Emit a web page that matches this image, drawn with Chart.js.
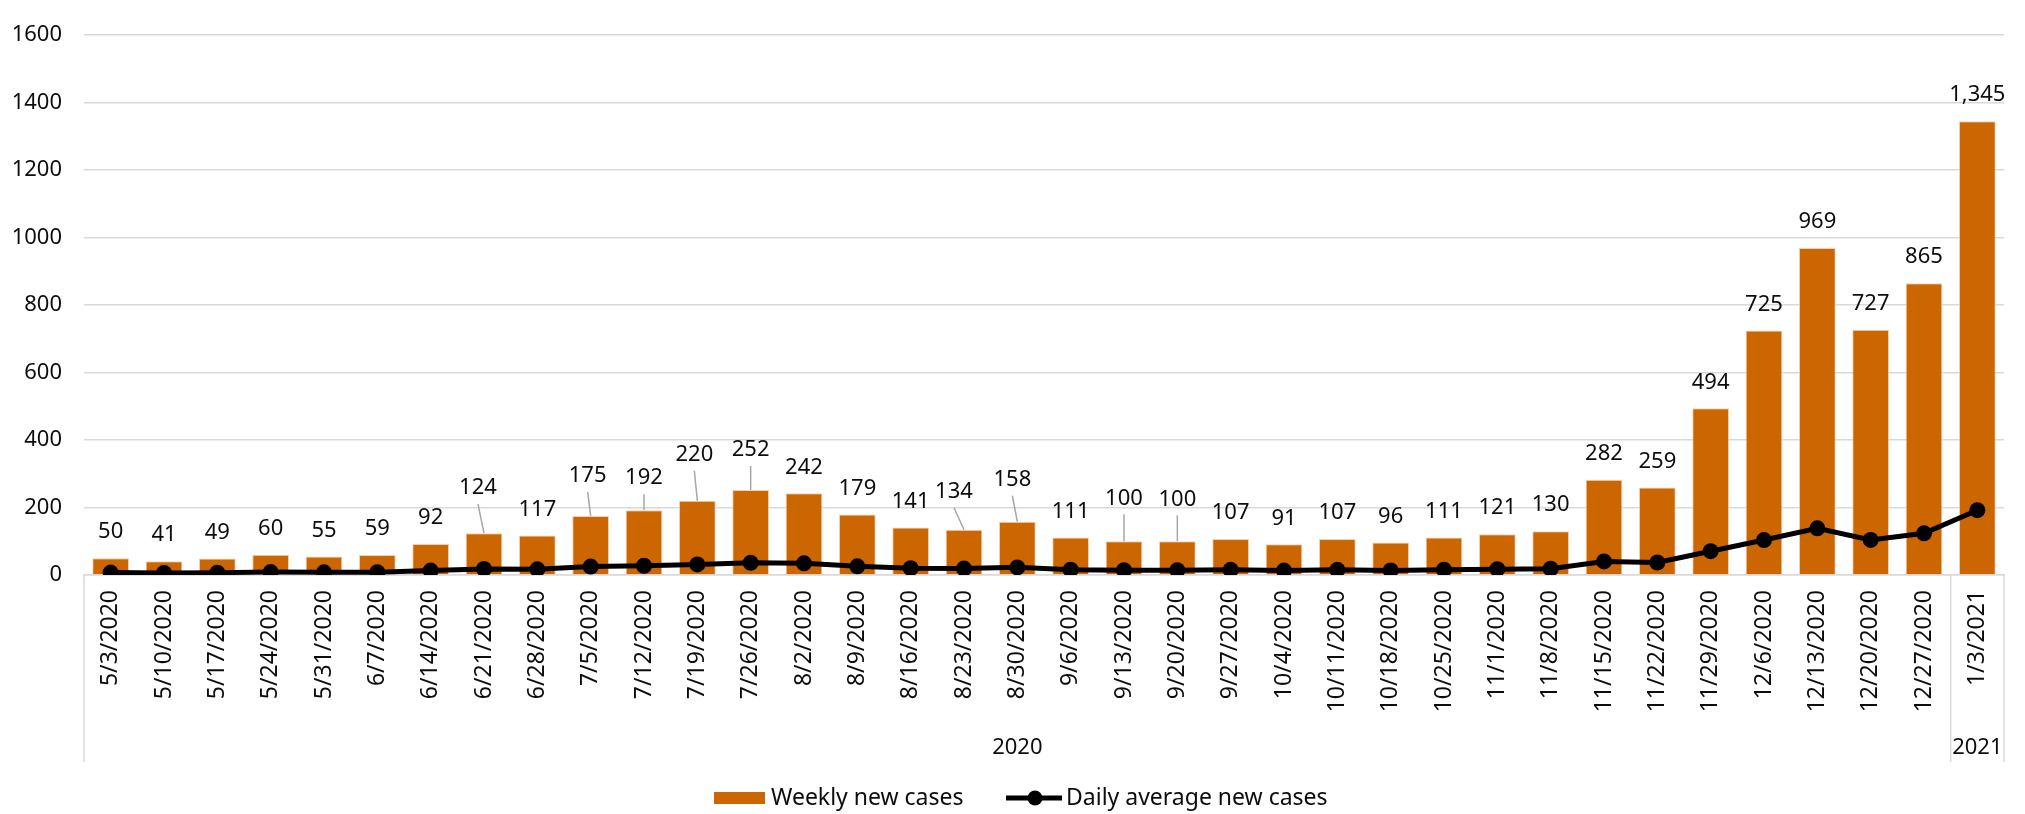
<!DOCTYPE html>
<html>
<head>
<meta charset="utf-8">
<script src="https://cdn.jsdelivr.net/npm/chart.js@4.4.1/dist/chart.umd.min.js"></script>
<style>
  html, body { margin: 0; padding: 0; background: #fff; }
  #chart-container { width: 2025px; height: 814px; }
</style>
</head>
<body>
<div id="chart-container"><canvas id="myChart"></canvas></div>
<script>
// Week start dates (x categories)
const weekLabels = [
  "5/3/2020", "5/10/2020", "5/17/2020", "5/24/2020", "5/31/2020", "6/7/2020",
  "6/14/2020", "6/21/2020", "6/28/2020", "7/5/2020", "7/12/2020", "7/19/2020",
  "7/26/2020", "8/2/2020", "8/9/2020", "8/16/2020", "8/23/2020", "8/30/2020",
  "9/6/2020", "9/13/2020", "9/20/2020", "9/27/2020", "10/4/2020", "10/11/2020",
  "10/18/2020", "10/25/2020", "11/1/2020", "11/8/2020", "11/15/2020", "11/22/2020",
  "11/29/2020", "12/6/2020", "12/13/2020", "12/20/2020", "12/27/2020", "1/3/2021"
];

// Weekly new cases (bars)
const weeklyCases = [
  50, 41, 49, 60, 55, 59, 92, 124, 117, 175, 192, 220,
  252, 242, 179, 141, 134, 158, 111, 100, 100, 107, 91, 107,
  96, 111, 121, 130, 282, 259, 494, 725, 969, 727, 865, 1345
];

// Daily average new cases (line)
const dailyAverage = [
  7.1, 5.9, 7.0, 8.6, 7.9, 8.4, 13.1, 17.7, 16.7, 25.0, 27.4, 31.4,
  36.0, 34.6, 25.6, 20.1, 19.1, 22.6, 15.9, 14.3, 14.3, 15.3, 13.0, 15.3,
  13.7, 15.9, 17.3, 18.6, 40.3, 37.0, 70.6, 103.6, 138.4, 103.9, 123.6, 192.1
];

// Year groups under the date labels
const groupNames = ["2020", "2021"];
const groupSizes = [35, 1];

// y axis ticks
const yMin = 0;
const yMax = 1600;
const yStep = 200;

const FONT = "'Noto Sans', 'Liberation Sans', sans-serif";
const TEXT = "#0d0d0d";
const GRID = "#d9d9d9";
const ORANGE = "#CC6600";

// label callouts: index -> [dx, dy above bar top]
const callouts = {
  7: [-6, 45], 9: [-3, 40], 10: [0, 32], 11: [-3, 46], 12: [0, 40],
  16: [-10, 38], 17: [-5, 42], 19: [0, 43], 20: [0, 42]
};

const barLabels = {
  id: "barLabels",
  afterDatasetsDraw(chart) {
    const ctx = chart.ctx;
    const meta = chart.getDatasetMeta(0);
    ctx.save();
    ctx.font = "22px " + FONT;
    ctx.textAlign = "center";
    ctx.textBaseline = "middle";
    meta.data.forEach((bar, i) => {
      const v = weeklyCases[i];
      const txt = v >= 1000 ? v.toLocaleString("en-US") : String(v);
      const off = callouts[i] || [0, 26];
      const lx = bar.x + off[0];
      const ly = bar.y - off[1];
      if (callouts[i]) {
        ctx.strokeStyle = "#a6a6a6";
        ctx.lineWidth = 1.5;
        ctx.beginPath();
        ctx.moveTo(lx, ly + 16);
        ctx.lineTo(bar.x, bar.y);
        ctx.stroke();
      }
      ctx.fillStyle = TEXT;
      ctx.fillText(txt, lx, ly);
    });
    ctx.restore();
  }
};

const groupsAndLegend = {
  id: "groupsAndLegend",
  afterDraw(chart) {
    const ctx = chart.ctx;
    const xs = chart.scales.x;
    const area = chart.chartArea;
    const bottom = 762;
    ctx.save();
    // group separators
    ctx.strokeStyle = GRID;
    ctx.lineWidth = 1.5;
    const edges = [area.left];
    let idx = 0;
    groupSizes.forEach((n) => {
      idx += n;
      if (idx < weekLabels.length) {
        edges.push((xs.getPixelForValue(idx - 1) + xs.getPixelForValue(idx)) / 2);
      } else {
        edges.push(area.right);
      }
    });
    edges.forEach((x) => {
      ctx.beginPath();
      ctx.moveTo(x, area.bottom);
      ctx.lineTo(x, bottom);
      ctx.stroke();
    });
    // group names
    ctx.font = "22px " + FONT;
    ctx.fillStyle = TEXT;
    ctx.textAlign = "center";
    ctx.textBaseline = "middle";
    groupNames.forEach((name, g) => {
      ctx.fillText(name, (edges[g] + edges[g + 1]) / 2, 748);
    });

    // legend
    const ly = 798;
    let x = 714;
    ctx.font = "23px " + FONT;
    ctx.textAlign = "left";
    ctx.fillStyle = ORANGE;
    ctx.fillRect(x, ly - 6, 51, 12);
    x += 57;
    ctx.fillStyle = TEXT;
    ctx.fillText(chart.data.datasets[0].label, x, ly);
    x = 1006;
    ctx.strokeStyle = "#000";
    ctx.lineWidth = 5;
    ctx.beginPath();
    ctx.moveTo(x, ly);
    ctx.lineTo(x + 56, ly);
    ctx.stroke();
    ctx.fillStyle = "#000";
    ctx.beginPath();
    ctx.arc(x + 29, ly, 7.5, 0, Math.PI * 2);
    ctx.fill();
    x += 60;
    ctx.fillStyle = TEXT;
    ctx.fillText(chart.data.datasets[1].label, x, ly);
    ctx.restore();
  }
};

const ctx = document.getElementById("myChart").getContext("2d");
const chart = new Chart(ctx, {
  data: {
    labels: weekLabels,
    datasets: [
      {
        type: "bar",
        label: "Weekly new cases",
        data: weeklyCases,
        backgroundColor: ORANGE,
        borderColor: "rgba(240, 200, 160, 0.8)",
        borderWidth: 1,
        barPercentage: 0.69,
        categoryPercentage: 1.0,
        order: 1
      },
      {
        type: "line",
        label: "Daily average new cases",
        data: dailyAverage,
        borderColor: "#000",
        backgroundColor: "#000",
        borderWidth: 5,
        pointRadius: 8,
        pointBorderWidth: 0,
        tension: 0,
        fill: false,
        order: 0
      }
    ]
  },
  options: {
    responsive: true,
    maintainAspectRatio: false,
    devicePixelRatio: 1,
    animation: false,
    layout: { padding: { top: 20, right: 21, left: 0, bottom: 0 } },
    plugins: {
      legend: { display: false },
      tooltip: { enabled: false }
    },
    scales: {
      x: {
        grid: { display: false, drawTicks: false },
        border: { display: true, color: GRID, width: 1.5 },
        ticks: {
          autoSkip: false,
          maxRotation: 90,
          minRotation: 90,
          padding: 15,
          color: TEXT,
          font: { family: FONT, size: 23 }
        },
        afterFit: (scale) => { scale.height = 239; }
      },
      y: {
        min: yMin,
        max: yMax,
        grid: { color: GRID, lineWidth: 1.5, drawTicks: false },
        border: { display: false },
        ticks: {
          stepSize: yStep,
          padding: 22,
          color: TEXT,
          font: { family: FONT, size: 22 },
          callback: (value) => String(value)
        },
        afterFit: (scale) => { scale.width = 84; }
      }
    }
  },
  plugins: [barLabels, groupsAndLegend]
});
</script>
</body>
</html>
